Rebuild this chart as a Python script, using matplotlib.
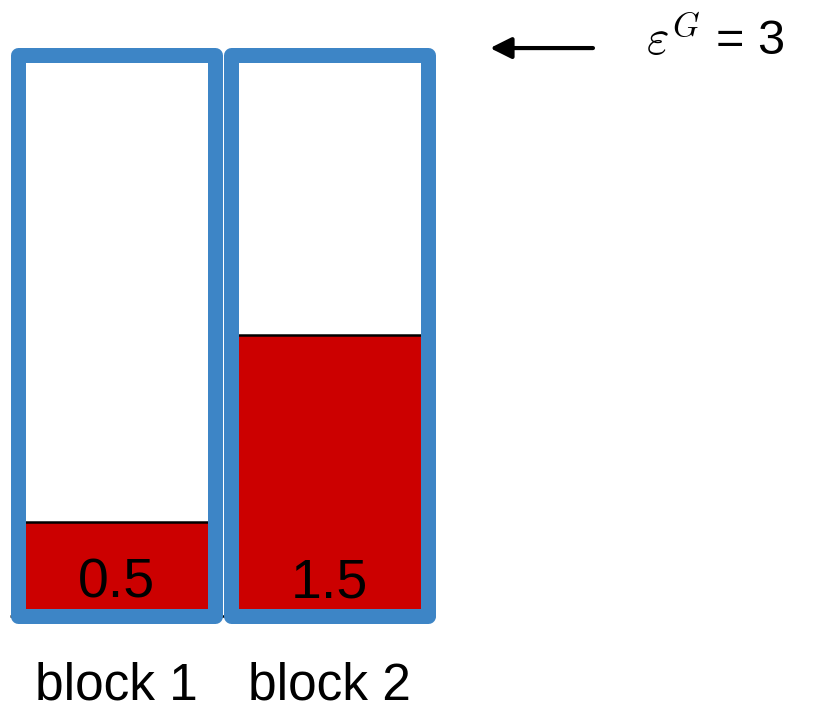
import matplotlib
matplotlib.use("Agg")
import matplotlib.pyplot as plt

plt.rcParams['font.family'] = ['Liberation Sans', 'DejaVu Sans']
plt.rcParams['mathtext.fontset'] = 'cm'

# data
blocks = ["block 1", "block 2"]
usage = [0.5, 1.5]
capacity = 3
cap_label = r"$\varepsilon^G$ = 3"

fill_color = "#CC0000"
border_color = "#3D85C6"

fig = plt.figure(figsize=(8.2, 7.11), dpi=100)
ax = fig.add_axes([0, 0, 1, 1])
ax.set_xlim(-0.545, 3.305)
ax.set_ylim(-0.508, 3.294)
ax.axis('off')

x = list(range(len(blocks)))
width = 0.925

# red fills
ax.bar(x, usage, width=width, color=fill_color, edgecolor='none', zorder=1)
# black line on top of fills
for xi, u in zip(x, usage):
    ax.hlines(u, xi - width / 2, xi + width / 2, color='black', lw=1.8, zorder=2)
# baseline spine
ax.hlines(0, x[0] - width / 2 - 0.035, x[-1] + width / 2 + 0.035, color='black', lw=1.8, zorder=2)
# blue borders
bars = ax.bar(x, [capacity] * len(x), width=width, fill=False,
              edgecolor=border_color, linewidth=10.8, zorder=3)
for b in bars:
    b.set_joinstyle('round')

# value labels
for xi, u in zip(x, usage):
    ax.text(xi, 0.10, f"{u}", ha='center', va='baseline', fontsize=40, zorder=4)

# block labels
for xi, name in zip(x, blocks):
    ax.text(xi, -0.445, name, ha='center', va='baseline', fontsize=37)

# capacity arrow and label
ax.annotate("", xy=(1.756, 3.037), xytext=(2.239, 3.037),
            arrowprops=dict(arrowstyle='-|>', color='black', lw=3,
                            mutation_scale=32, shrinkA=0, shrinkB=0))
ax.text(2.49, 3.0, cap_label, ha='left', va='baseline', fontsize=35)

fig.savefig("out.png", dpi=100)
